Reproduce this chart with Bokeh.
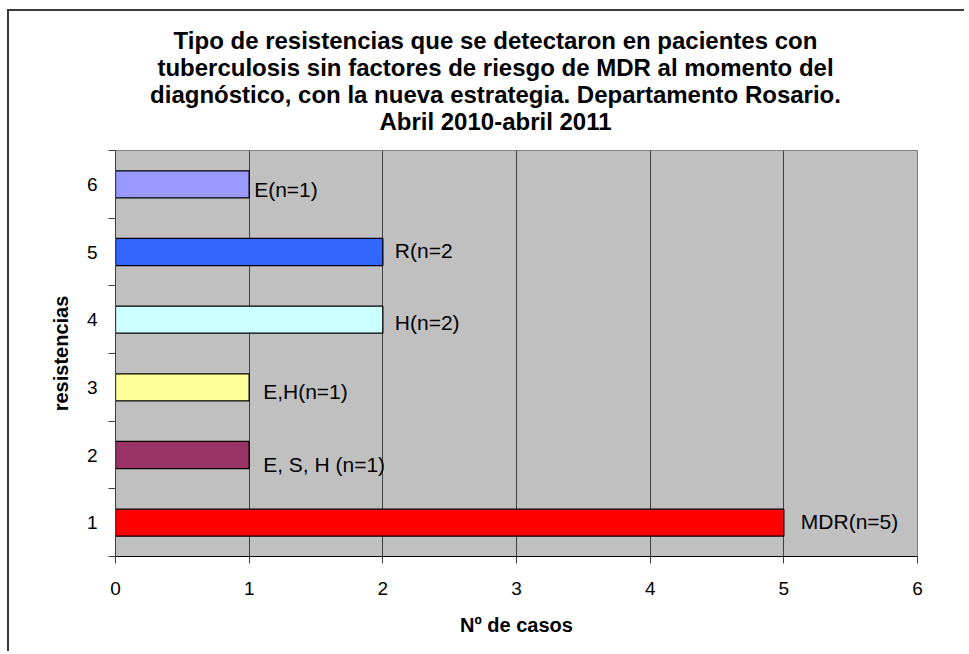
from bokeh.plotting import figure
from bokeh.models import ColumnDataSource, FixedTicker, Label, Range1d, LabelSet
from bokeh.core.properties import value
from bokeh.embed import file_html
from bokeh.resources import INLINE

# ---- data ----
categorias = [1, 2, 3, 4, 5, 6]
casos = [5, 1, 1, 2, 2, 1]
etiquetas = ["MDR(n=5)", "E, S, H (n=1)", "E,H(n=1)", "H(n=2)", "R(n=2", "E(n=1)"]
colores = ["#FF0000", "#993366", "#FFFF99", "#CCFFFF", "#3366FF", "#9999FF"]
x_ticks = [0, 1, 2, 3, 4, 5, 6]
titulo = ["Tipo de resistencias que se detectaron en pacientes con",
          "tuberculosis sin factores de riesgo de MDR al momento del",
          "diagnóstico, con la nueva estrategia. Departamento Rosario.",
          "Abril 2010-abril 2011"]
x_titulo = "Nº de casos"
y_titulo = "resistencias"

# label placement (pixel offsets, style only)
lab_dx = [17, 14, 14, 12, 12, 5]
lab_dy = [1, -9, -4, -3, 2, -5]

FONT = "Liberation Sans"

src = ColumnDataSource(dict(y=categorias, right=casos, color=colores,
                            text=etiquetas, dx=lab_dx, dy=lab_dy))

p = figure(width=955, height=640, frame_width=802, frame_height=406,
           x_range=Range1d(0, 6), y_range=Range1d(0.5, 6.5),
           output_backend="svg", toolbar_location=None,
           min_border_left=106, min_border_right=47,
           min_border_top=139, min_border_bottom=95)
p.styles = {"margin-left": "7px", "margin-top": "9px",
            "border-top": "2px solid #3a3a3a", "border-left": "2px solid #3a3a3a"}

p.background_fill_color = "#C0C0C0"
p.border_fill_color = "white"
p.outline_line_color = "#808080"
p.outline_line_width = 1

p.hbar(y="y", right="right", left=0, height=0.4, fill_color="color",
       line_color="black", line_width=1.3, source=src)

labels = LabelSet(x="right", y="y", text="text", x_offset="dx", y_offset="dy",
                  source=src, text_font=value(FONT), text_font_size="21px",
                  text_color="black", text_align="left", text_baseline="middle")
p.add_layout(labels)

# x axis
p.xaxis.ticker = FixedTicker(ticks=x_ticks, minor_ticks=[])
p.xaxis.major_label_text_font = FONT
p.xaxis.major_label_text_font_size = "19px"
p.xaxis.major_label_text_color = "black"
p.xaxis.major_tick_out = 7
p.xaxis.major_tick_in = 0
p.xaxis.major_tick_line_color = "#404040"
p.xaxis.axis_line_color = "black"
p.xaxis.major_label_standoff = 18
p.xaxis.axis_label = x_titulo
p.xaxis.axis_label_text_font = FONT
p.xaxis.axis_label_text_font_size = "20px"
p.xaxis.axis_label_text_font_style = "bold"
p.xaxis.axis_label_text_color = "black"
p.xaxis.axis_label_standoff = 16

# y axis
p.yaxis.ticker = FixedTicker(ticks=categorias,
                             minor_ticks=[0.5, 1.5, 2.5, 3.5, 4.5, 5.5, 6.5])
p.yaxis.major_tick_line_color = None
p.yaxis.major_tick_out = 0
p.yaxis.major_tick_in = 0
p.yaxis.minor_tick_out = 7
p.yaxis.minor_tick_in = 0
p.yaxis.minor_tick_line_color = "#404040"
p.yaxis.axis_line_color = "#404040"
p.yaxis.major_label_text_font = FONT
p.yaxis.major_label_text_font_size = "19px"
p.yaxis.major_label_text_color = "black"
p.yaxis.major_label_standoff = 11
p.yaxis.axis_label = y_titulo
p.yaxis.axis_label_text_font = FONT
p.yaxis.axis_label_text_font_size = "20px"
p.yaxis.axis_label_text_font_style = "bold"
p.yaxis.axis_label_text_color = "black"
p.yaxis.axis_label_standoff = 12

p.xgrid.grid_line_color = "#404040"
p.xgrid.grid_line_width = 1
p.ygrid.grid_line_color = None

# title lines: each in its own stacked panel above the plot area
# (the first panel added sits nearest the plot, so add the last line first)
for t in reversed(titulo):
    p.add_layout(Label(x=380, y=29, x_units="screen", y_units="screen", text=t,
                       text_font=FONT, text_font_size="24px", text_font_style="bold",
                       text_align="center", text_baseline="middle", text_color="black"),
                 "above")

open("out.html", "w").write(file_html(p, INLINE))
